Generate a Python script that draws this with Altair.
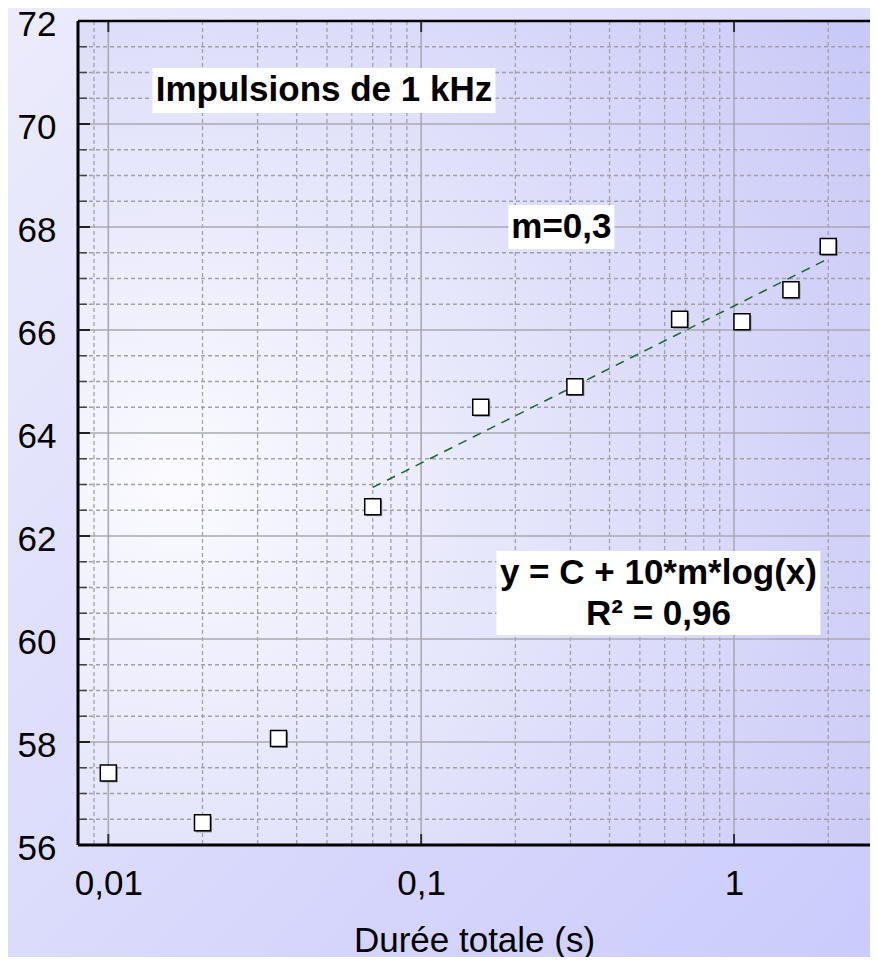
import altair as alt
import pandas as pd

# ---- data ----
durations = [0.01, 0.02, 0.035, 0.07, 0.155, 0.31, 0.67, 1.06, 1.52, 2.0]
levels = [57.4, 56.43, 58.07, 62.57, 64.50, 64.90, 66.21, 66.16, 66.78, 67.62]
fit_start = 0.07
fit_end = 2.0

x_major = [0.01, 0.1, 1]
x_minor = [0.009] + [k * 0.01 for k in range(2, 10)] + [k * 0.1 for k in range(2, 10)] + [2]
y_major = [56, 58, 60, 62, 64, 66, 68, 70, 72]
y_minor = [56 + 0.5 * i for i in range(33) if (56 + 0.5 * i) % 2 != 0]

x_domain = [0.008, 2.72]
y_domain = [56, 72]

# annotations (data coordinates)
box_labels = ["Impulsions de 1 kHz", "m=0,3", "formula"]
box_x1 = [0.01383, 0.190, 0.174]
box_x2 = [0.1728, 0.4145, 1.889]
box_y1 = [71.087, 68.427, 61.709]
box_y2 = [70.214, 67.573, 60.078]
text_lines = ["Impulsions de 1 kHz", "m=0,3", "y = C + 10*m*log(x)", "R\u00b2 = 0,96"]
text_x = [0.0489, 0.2807, 0.5733, 0.5733]
text_y = [70.66, 68.0, 61.28, 60.49]

W, H = 792, 824
FONT = "Liberation Sans"

pts = pd.DataFrame({"t": durations, "L": levels})
boxes = pd.DataFrame({"name": box_labels, "x1": box_x1, "x2": box_x2, "y1": box_y1, "y2": box_y2})
texts = pd.DataFrame({"txt": text_lines, "x": text_x, "y": text_y})

xs = alt.Scale(type="log", domain=x_domain, nice=False)
ys = alt.Scale(domain=y_domain, nice=False, zero=False)

one = alt.Data(values=[{}])

outer_bg = alt.Chart(one).mark_rect(
    color={"gradient": "linear", "x1": 0, "y1": 0, "x2": 1, "y2": 1,
           "stops": [{"offset": 0, "color": "#ececfc"}, {"offset": 1, "color": "#c9c9fc"}]},
    clip=False,
).encode(x=alt.value(-80), x2=alt.value(W + 90), y=alt.value(-20), y2=alt.value(H + 150))

inner_bg = alt.Chart(one).mark_rect(
    color={"gradient": "radial", "x1": 0.14, "y1": 0.56, "r1": 0, "x2": 0.14, "y2": 0.56, "r2": 1.05,
           "stops": [{"offset": 0, "color": "#fbfbff"},
                     {"offset": 0.45, "color": "#e2e2fb"},
                     {"offset": 1, "color": "#c6c6f7"}]},
).encode(x=alt.value(0), x2=alt.value(W), y=alt.value(0), y2=alt.value(H))


def vrules(vals, color, width, dash=None):
    kw = {"color": color, "strokeWidth": width}
    if dash:
        kw["strokeDash"] = dash
    return alt.Chart(pd.DataFrame({"v": vals})).mark_rule(**kw).encode(x=alt.X("v:Q", scale=xs))


def hrules(vals, color, width, dash=None):
    kw = {"color": color, "strokeWidth": width}
    if dash:
        kw["strokeDash"] = dash
    return alt.Chart(pd.DataFrame({"v": vals})).mark_rule(**kw).encode(y=alt.Y("v:Q", scale=ys))


minor_x = vrules(x_minor, "#a0a0a8", 1.3, [4, 3])
minor_y = hrules(y_minor, "#a0a0a8", 1.3, [4, 3])
major_x = vrules(x_major, "#a9a9b2", 1.6)
major_y = hrules(y_major, "#a9a9b2", 1.6)


def yticks(vals, length, color, width):
    return alt.Chart(pd.DataFrame({"v": vals})).mark_rule(color=color, strokeWidth=width).encode(
        y=alt.Y("v:Q", scale=ys), x=alt.value(0), x2=alt.value(length))


def xticks(vals, length, color, width, top=False):
    y0, y1 = (0, length) if top else (H - length, H)
    return alt.Chart(pd.DataFrame({"v": vals})).mark_rule(color=color, strokeWidth=width).encode(
        x=alt.X("v:Q", scale=xs), y=alt.value(y0), y2=alt.value(y1))


tick_layers = [
    yticks(y_major, 12, "#222222", 2), yticks(y_minor, 9, "#444444", 1.5),
    xticks(x_major, 11, "#333333", 2), xticks(x_major, 11, "#333333", 2, top=True),
]

base = alt.Chart(pts)

trend = base.transform_filter(alt.datum.t >= fit_start).transform_regression(
    "t", "L", method="log", extent=[fit_start, fit_end]
).mark_line(color="#16692c", strokeDash=[9, 7], strokeWidth=1.5).encode(
    x=alt.X("t:Q", scale=xs), y=alt.Y("L:Q", scale=ys))

shadow = base.mark_square(color="#8a8a95", size=256, opacity=1, xOffset=1.5, yOffset=1.5).encode(
    x=alt.X("t:Q", scale=xs), y=alt.Y("L:Q", scale=ys))

points = base.mark_square(fill="white", stroke="black", strokeWidth=1.5, size=256, opacity=1,
                          fillOpacity=1).encode(
    x=alt.X("t:Q", scale=xs,
            axis=alt.Axis(values=x_major, title="Durée totale (s)", grid=False, ticks=False, tickSize=0,
                          domain=False, labelFont=FONT, labelFontSize=35, labelColor="black",
                          labelPadding=21, labelExpr="replace(toString(datum.value), '.', ',')",
                          labelFlush=False, labelOverlap=False,
                          titleFont=FONT, titleFontSize=35, titleFontWeight="normal", titleColor="black",
                          titlePadding=22, zindex=1)),
    y=alt.Y("L:Q", scale=ys,
            axis=alt.Axis(values=y_major, title=None, grid=False, ticks=False, tickSize=0, domain=False,
                          labelFont=FONT, labelFontSize=35, labelColor="black", labelPadding=22,
                          labelOffset=3, labelFlush=False, labelOverlap=False, zindex=1)),
)

frame_left = alt.Chart(one).mark_rule(color="black", strokeWidth=3).encode(
    x=alt.value(0), y=alt.value(0), y2=alt.value(H))
frame_top = alt.Chart(one).mark_rule(color="black", strokeWidth=2.5).encode(
    x=alt.value(0), x2=alt.value(W), y=alt.value(0))
frame_bottom = alt.Chart(one).mark_rule(color="black", strokeWidth=3).encode(
    x=alt.value(0), x2=alt.value(W), y=alt.value(H))

box_layer = alt.Chart(boxes).mark_rect(color="white", opacity=1).encode(
    x=alt.X("x1:Q", scale=xs), x2="x2:Q",
    y=alt.Y("y1:Q", scale=ys), y2="y2:Q")

text_layer = alt.Chart(texts).mark_text(font=FONT, fontSize=35, fontWeight="bold", color="black",
                                        align="center", baseline="middle").encode(
    x=alt.X("x:Q", scale=xs), y=alt.Y("y:Q", scale=ys), text="txt:N")

chart = alt.layer(
    outer_bg, inner_bg, minor_x, minor_y, major_x, major_y, *tick_layers,
    trend, shadow, points, frame_left, frame_top, frame_bottom, box_layer, text_layer,
).properties(
    width=W, height=H,
    autosize=alt.AutoSizeParams(type="none"),
    padding={"left": 70, "top": 13, "right": 0, "bottom": 112},
).configure_view(stroke=None).configure(background="#dcdcfc")

chart.save("out.html", embed_options={"renderer": "svg", "actions": False})
